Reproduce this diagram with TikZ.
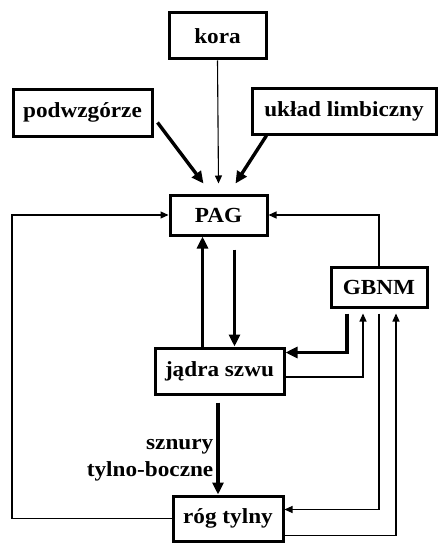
\documentclass[tikz,border=0pt]{standalone}
\usepackage{fontspec}
\setmainfont{Liberation Serif}[FakeStretch=1.08]
\usetikzlibrary{arrows.meta}
\usetikzlibrary{calc}

\begin{document}
\begin{tikzpicture}[x=1pt, y=-1pt,
    box/.style={draw, line width=3pt, inner sep=0pt, font=\fontsize{21.5}{27}\bfseries\selectfont},
    thick arrow/.style={line width=3.4pt, -{Triangle[length=12pt,width=11pt]}},
    thin arrow/.style={line width=1.1pt, -{Triangle[length=8pt,width=7pt]}}]
    \useasboundingbox (0,0) rectangle (439,543);

    \node[box, minimum width=97pt, minimum height=46pt] (kora) at (217.5,36) {kora};
    \node[box, minimum width=139pt, minimum height=47pt] (podw) at (82.5,112.5) {podwzgórze};
    \node[box, minimum width=184pt, minimum height=46pt] (limb) at (344,111) {układ limbiczny};
    \node[box, minimum width=97pt, minimum height=40pt] (PAG) at (218.5,215) {PAG};
    \node[box, minimum width=129pt, minimum height=46pt] (jadra) at (219.5,371) {jądra szwu};
    \node[box, minimum width=96pt, minimum height=40pt] (GBNM) at (379,287) {GBNM};
    \node[box, minimum width=110pt, minimum height=45pt] (rog) at (228,518.5) {róg tylny};
    \coordinate (left) at (12,0);

    % wejscia do PAG
    \draw[thin arrow] (kora.south) -- ([yshift=10pt]PAG.north);
    \draw[thick arrow] ([shift={(4pt,-10pt)}]podw.east) -- ([shift={(-15pt,10pt)}]PAG.north);
    \draw[thick arrow] ([xshift=16pt]limb.south west) -- ([shift={(17pt,10pt)}]PAG.north);

    \draw[thick arrow] ([xshift=-17pt]jadra.north) -- ([xshift=-17pt]jadra.north |- PAG.south);
    \draw[thick arrow] ([shift={(16pt,-13pt)}]PAG.south) -- ([xshift=16pt]PAG.south |- jadra.north);
    \draw[thin arrow] (GBNM.north) |- (PAG.east);
    \draw[thin arrow] (rog.west) -- (left |- rog.west) |- (PAG.west);

    % GBNM
    \draw[thick arrow] ([shift={(-32pt,-5pt)}]GBNM.south) |- ([yshift=-6pt]jadra.north east);
    \draw[thin arrow] ([yshift=-6pt]jadra.east) -| ([shift={(-16pt,-5pt)}]GBNM.south);
    \draw[thin arrow] ([yshift=-5pt]GBNM.south) |- ([yshift=9pt]rog.east);
    \draw[thin arrow] ([yshift=-17pt]rog.east) -| ([shift={(17pt,-5pt)}]GBNM.south);

    \draw[thick arrow] ([shift={(-1.5pt,-7pt)}]jadra.south) -- ([xshift=-1.5pt]jadra.south |- rog.north)
        node[pos=0.63, left, align=right, inner sep=3pt, font=\fontsize{21.5}{27}\bfseries\selectfont] (sznury) {sznury\\tylno-boczne};
\end{tikzpicture}
\end{document}
